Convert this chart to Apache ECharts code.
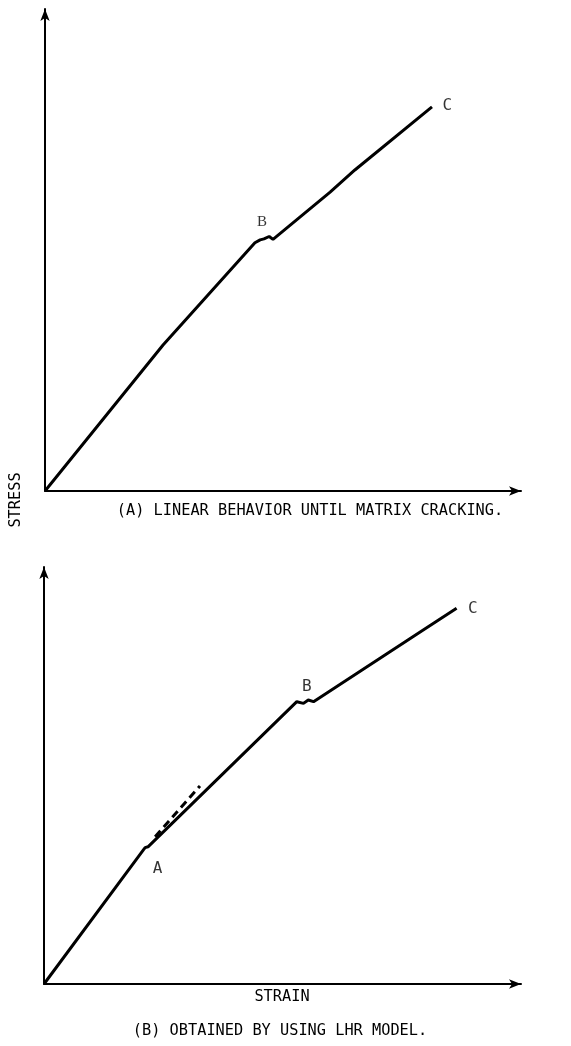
<!DOCTYPE html>
<html>
<head>
<meta charset="utf-8">
<script src="https://cdn.jsdelivr.net/npm/echarts@6/dist/echarts.min.js"></script>
<style>html,body{margin:0;padding:0;background:#fff}#c{width:571px;height:1046px}</style>
</head>
<body>
<div id="c"></div>
<script>
// Panel (A): linear behaviour until matrix cracking (arbitrary units)
const topStrain = [0, 24.8, 44.1, 45.2, 46.0, 47.1, 47.9, 59.9, 65.1, 81.3];
const topStress = [0, 30.3, 51.5, 52.1, 52.3, 52.8, 52.2, 62.0, 66.6, 79.7];
const topLabels = [["B", 45.6, 55.8], ["C", 84.5, 79.9]];

// Panel (B): obtained by using LHR model
const botStrain = [0, 20.8, 21.2, 21.8, 53.0, 54.4, 55.4, 56.5, 79.5, 86.5];
const botStress = [0, 32.1, 32.7, 32.9, 67.7, 67.3, 68.1, 67.7, 84.9, 90.1];
const dashStrain = [23.3, 32.7];
const dashStress = [35.3, 47.5];
const botLabels = [["A", 23.8, 27.6], ["B", 55.1, 71.3], ["C", 89.9, 89.9]];

const captionA = "(A) LINEAR BEHAVIOR UNTIL MATRIX CRACKING.";
const captionB = "(B) OBTAINED BY USING LHR MODEL.";
const yName = "STRESS";
const xName = "STRAIN";

const zip = (a, b) => a.map((v, i) => [v, b[i]]);
const mono = "'DejaVu Sans Mono', monospace";

function axes(idx) {
  const line = {show: true, symbol: ['none', 'arrow'], symbolSize: [7, 12], lineStyle: {color: '#000', width: 2}};
  return {
    x: {type: 'value', gridIndex: idx, min: 0, max: 100, axisLine: line, axisTick: {show: false},
        axisLabel: {show: false}, splitLine: {show: false}},
    y: {type: 'value', gridIndex: idx, min: 0, max: 100, axisLine: line, axisTick: {show: false},
        axisLabel: {show: false}, splitLine: {show: false}}
  };
}
const a0 = axes(0), a1 = axes(1);

function labelSeries(idx, arr, serifFirst) {
  return {
    type: 'scatter', xAxisIndex: idx, yAxisIndex: idx, symbolSize: 0, silent: true,
    data: arr.map((d, i) => ({value: [d[1], d[2]], name: d[0],
      label: (serifFirst && i === 0) ? {fontFamily: "'Liberation Serif', serif", fontSize: 15}
                                      : {fontFamily: mono, fontSize: 16}})),
    label: {show: true, position: 'inside', formatter: p => p.name, color: '#000'}
  };
}

function txt(s, x, y, rot) {
  return {type: 'text', x: x, y: y, rotation: rot || 0, scaleX: 0.955,
    style: {text: s, font: "16px 'DejaVu Sans Mono'", fill: '#000', align: 'center', verticalAlign: 'middle'}};
}

const chart = echarts.init(document.getElementById('c'), null, {renderer: 'canvas'});
chart.setOption({
  animation: false,
  backgroundColor: '#fff',
  grid: [
    {left: 45, top: 9, width: 476, height: 482},
    {left: 44, top: 567, width: 477, height: 417}
  ],
  xAxis: [a0.x, a1.x],
  yAxis: [a0.y, a1.y],
  graphic: [
    txt(captionA, 310, 511),
    txt(xName, 282, 997),
    txt(captionB, 280, 1031),
    txt(yName, 16, 500, Math.PI / 2)
  ],
  series: [
    {type: 'line', xAxisIndex: 0, yAxisIndex: 0, data: zip(topStrain, topStress), showSymbol: false,
     lineStyle: {color: '#000', width: 3}},
    {type: 'line', xAxisIndex: 1, yAxisIndex: 1, data: zip(botStrain, botStress), showSymbol: false,
     lineStyle: {color: '#000', width: 3}},
    {type: 'line', xAxisIndex: 1, yAxisIndex: 1, data: zip(dashStrain, dashStress), showSymbol: false,
     lineStyle: {color: '#000', width: 3, type: [8, 5]}},
    labelSeries(0, topLabels, true),
    labelSeries(1, botLabels, false)
  ]
});
</script>
</body>
</html>
